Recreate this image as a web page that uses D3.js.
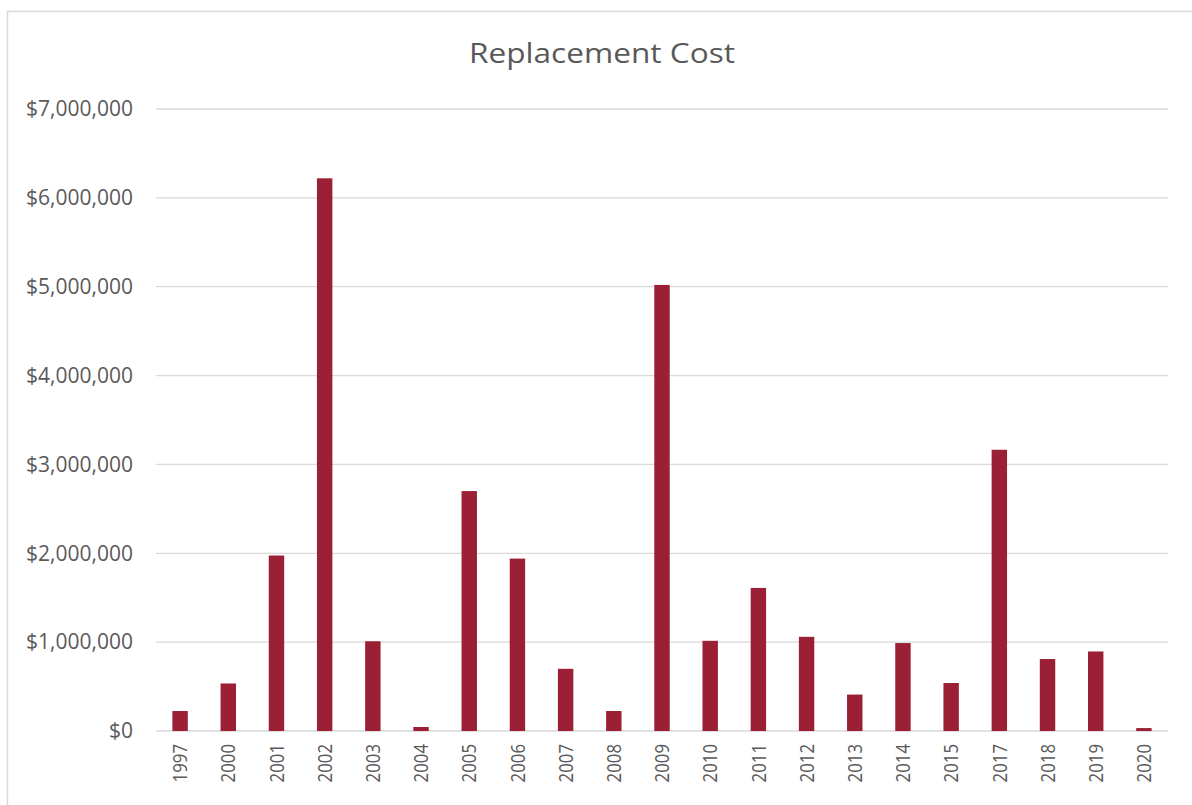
<!DOCTYPE html>
<html>
<head>
<meta charset="utf-8">
<script src="https://cdn.jsdelivr.net/npm/d3@7"></script>
<style>
  html, body { margin: 0; padding: 0; background: #fff; }
  svg { display: block; }
  svg text { font-family: "Open Sans", "Noto Sans", sans-serif; }
</style>
</head>
<body>
<svg id="chart" width="1192" height="805"></svg>
<script>
// Replacement cost by year (USD)
const years = ["1997","2000","2001","2002","2003","2004","2005","2006","2007","2008","2009",
               "2010","2011","2012","2013","2014","2015","2017","2018","2019","2020"];
const costs = [225000, 535000, 1975000, 6220000, 1010000, 45000, 2700000, 1940000, 700000, 225000, 5020000,
               1015000, 1610000, 1060000, 410000, 990000, 540000, 3165000, 810000, 895000, 33000];
const yTicks = [0, 1000000, 2000000, 3000000, 4000000, 5000000, 6000000, 7000000];
const chartTitle = "Replacement Cost";

const svg = d3.select("#chart");
const margin = { left: 156, right: 1168, top: 109, bottom: 731 };

// outer chart frame
svg.append("rect")
  .attr("x", 7.5).attr("y", 11.5)
  .attr("width", 1200).attr("height", 820)
  .attr("fill", "#fff").attr("stroke", "#d9d9d9").attr("stroke-width", 1.5);

const x = d3.scaleBand().domain(years).range([margin.left, margin.right]).paddingInner(0.68).paddingOuter(0.34);
const y = d3.scaleLinear().domain([0, 7000000]).range([margin.bottom, margin.top]);

// gridlines
svg.append("g").selectAll("line").data(yTicks).join("line")
  .attr("x1", margin.left).attr("x2", margin.right)
  .attr("y1", d => y(d)).attr("y2", d => y(d))
  .attr("stroke", "#d9d9d9").attr("stroke-width", 1.3);

// y axis labels
const fmt = d3.format("$,.0f");
const yAxis = svg.append("g")
  .attr("transform", `translate(${margin.left},0)`)
  .call(d3.axisLeft(y).tickValues(yTicks).tickFormat(fmt).tickSize(0).tickPadding(23));
yAxis.attr("font-family", null).attr("font-size", null);
yAxis.select(".domain").remove();
yAxis.selectAll("text").attr("fill", "#595959").style("font-size", "21px");

// bars
svg.append("g").selectAll("rect").data(costs).join("rect")
  .attr("x", (d, i) => x(years[i]))
  .attr("width", x.bandwidth())
  .attr("y", d => y(d))
  .attr("height", d => y(0) - y(d))
  .attr("fill", "#9b2035");

// x axis labels (rotated, slightly condensed)
const xAxis = svg.append("g")
  .attr("transform", `translate(0,${margin.bottom})`)
  .call(d3.axisBottom(x).tickSize(0).tickPadding(0));
xAxis.attr("font-family", null).attr("font-size", null);
xAxis.select(".domain").remove();
xAxis.selectAll("text")
  .attr("fill", "#595959").style("font-size", "20px")
  .attr("text-anchor", "end")
  .attr("dy", "0.36em")
  .attr("transform", "translate(0,13) rotate(-90) scale(0.84,1)");

// title (slightly widened)
svg.append("text")
  .attr("transform", "translate(602,63) scale(1.17,1)")
  .attr("text-anchor", "middle")
  .attr("fill", "#595959")
  .style("font-size", "27px")
  .text(chartTitle);
</script>
</body>
</html>
